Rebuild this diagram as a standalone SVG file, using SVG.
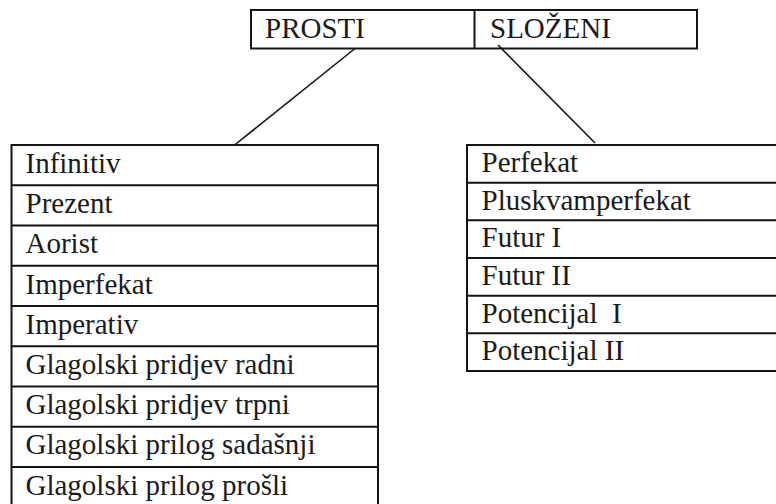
<svg xmlns="http://www.w3.org/2000/svg" width="776" height="504" viewBox="0 0 776 504">
  <style>
    .box { fill: none; stroke: #141414; stroke-width: 2; }
    .sep { stroke: #141414; stroke-width: 2; }
    .conn { stroke: #141414; stroke-width: 1.6; fill: none; }
    text { font-family: "Liberation Serif", "Times New Roman", serif; font-size: 29px; fill: #1a1a1a; white-space: pre; }
  </style>
  <rect width="776" height="504" fill="#ffffff"/>

  <!-- header: two categories -->
  <g id="header">
    <rect class="box" x="251" y="10" width="446" height="38.5"/>
    <line class="sep" x1="474.5" y1="10" x2="474.5" y2="48.5"/>
    <text x="265" y="37.5">PROSTI</text>
    <text x="490" y="37.5">SLOŽENI</text>
  </g>

  <!-- connectors -->
  <g id="connectors">
    <line class="conn" x1="355" y1="48.5" x2="234" y2="145.5"/>
    <line class="conn" x1="498" y1="45" x2="595" y2="143"/>
  </g>

  <!-- simple forms -->
  <g id="prosti">
    <rect class="box" x="11.5" y="145" width="366.5" height="362.25"/>
    <line class="sep" x1="11.5" y1="185.25" x2="378" y2="185.25"/>
    <line class="sep" x1="11.5" y1="225.5" x2="378" y2="225.5"/>
    <line class="sep" x1="11.5" y1="265.75" x2="378" y2="265.75"/>
    <line class="sep" x1="11.5" y1="306" x2="378" y2="306"/>
    <line class="sep" x1="11.5" y1="346.25" x2="378" y2="346.25"/>
    <line class="sep" x1="11.5" y1="386.5" x2="378" y2="386.5"/>
    <line class="sep" x1="11.5" y1="426.75" x2="378" y2="426.75"/>
    <line class="sep" x1="11.5" y1="467" x2="378" y2="467"/>
    <text x="25.5" y="172.5">Infinitiv</text>
    <text x="25.5" y="212.75">Prezent</text>
    <text x="25.5" y="253">Aorist</text>
    <text x="25.5" y="293.5">Imperfekat</text>
    <text x="25.5" y="333.5">Imperativ</text>
    <text x="25.5" y="373.75">Glagolski pridjev radni</text>
    <text x="25.5" y="414">Glagolski pridjev trpni</text>
    <text x="25.5" y="454.25">Glagolski prilog sadašnji</text>
    <text x="25.5" y="494.5">Glagolski prilog prošli</text>
  </g>

  <!-- compound forms -->
  <g id="slozeni">
    <rect class="box" x="467" y="145" width="312" height="226"/>
    <line class="sep" x1="467" y1="182.7" x2="779" y2="182.7"/>
    <line class="sep" x1="467" y1="220.3" x2="779" y2="220.3"/>
    <line class="sep" x1="467" y1="258" x2="779" y2="258"/>
    <line class="sep" x1="467" y1="295.7" x2="779" y2="295.7"/>
    <line class="sep" x1="467" y1="333.3" x2="779" y2="333.3"/>
    <text x="481.5" y="172">Perfekat</text>
    <text x="481.5" y="209.7">Pluskvamperfekat</text>
    <text x="481.5" y="247.3">Futur I</text>
    <text x="481.5" y="285">Futur II</text>
    <text x="481.5" y="322.7">Potencijal  I</text>
    <text x="481.5" y="360.3">Potencijal II</text>
  </g>
</svg>
